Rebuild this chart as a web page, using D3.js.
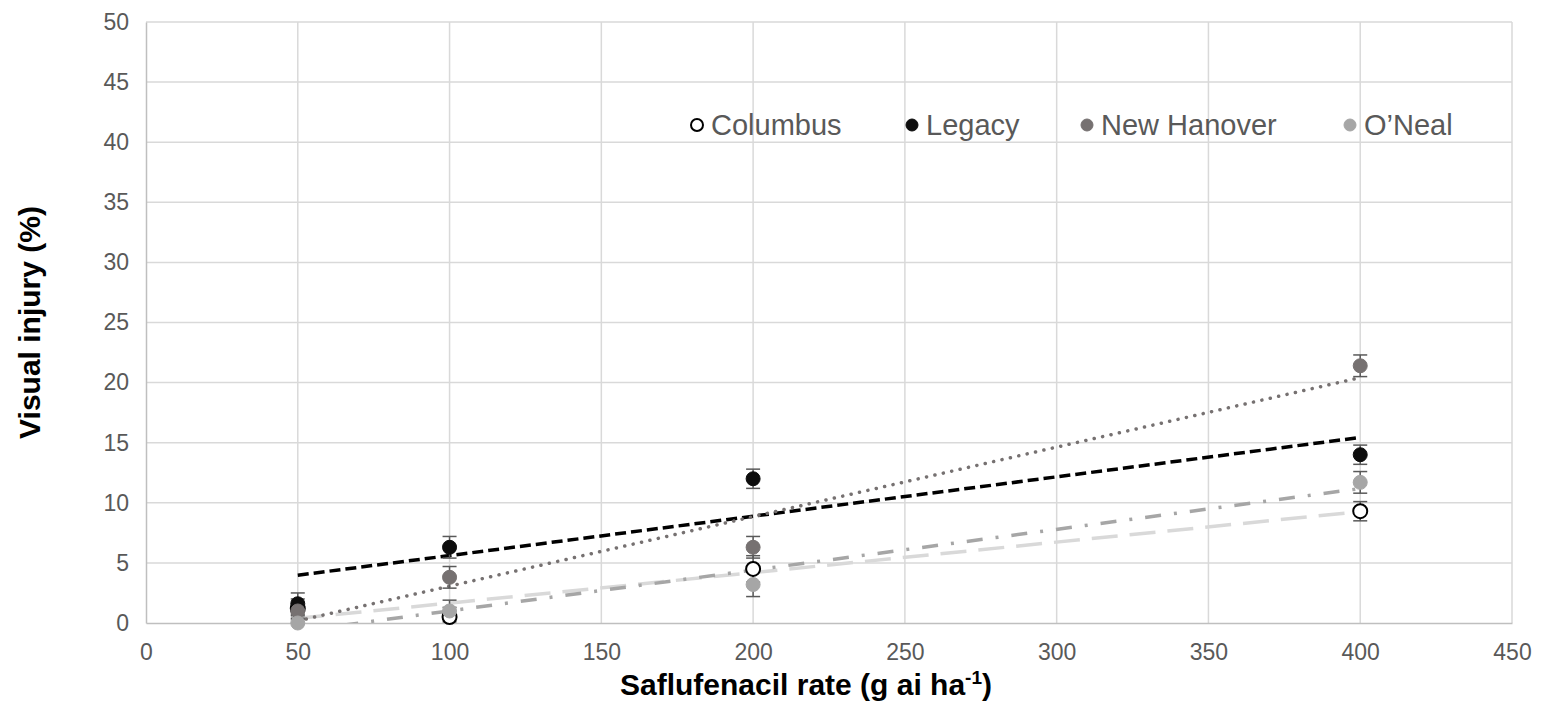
<!DOCTYPE html>
<html>
<head>
<meta charset="utf-8">
<script src="https://cdn.jsdelivr.net/npm/d3@7"></script>
<style>
  body { margin: 0; background: #fff; }
  svg { display: block; font-family: "Liberation Sans", Arial, sans-serif; }
</style>
</head>
<body>
<svg id="chart" width="1543" height="706"></svg>
<script>
// saflufenacil rates (g ai/ha)
const rates = [50, 100, 200, 400];

// visual injury (%) means and error (SE) per site
const columbus = [1.2, 0.5, 4.5, 9.3];
const columbusErr = [0.8, 0.8, 1.1, 0.8];
const legacy = [1.6, 6.3, 12.0, 14.0];
const legacyErr = [0.9, 0.9, 0.8, 0.8];
const newHanover = [1.0, 3.8, 6.3, 21.4];
const newHanoverErr = [0.4, 0.9, 0.9, 0.9];
const oneal = [0.0, 1.0, 3.2, 11.7];
const onealErr = [0.3, 0.9, 1.0, 0.9];

const siteNames = ['Columbus', 'Legacy', 'New Hanover', 'O\u2019Neal'];
const xTicks = [0, 50, 100, 150, 200, 250, 300, 350, 400, 450];
const yTicks = [0, 5, 10, 15, 20, 25, 30, 35, 40, 45, 50];

// styles for each site, same order as siteNames
const series = [
    { name: siteNames[0], values: columbus, err: columbusErr, fill: '#ffffff', stroke: '#000000', line: '#d9d9d9', dash: '26,12', cap: 'butt' },
    { name: siteNames[1], values: legacy, err: legacyErr, fill: '#0d0d0d', stroke: '#0d0d0d', line: '#000000', dash: '11,5', cap: 'butt' },
    { name: siteNames[2], values: newHanover, err: newHanoverErr, fill: '#767171', stroke: '#767171', line: '#767171', dash: '0.1,8.5', cap: 'round' },
    { name: siteNames[3], values: oneal, err: onealErr, fill: '#a6a6a6', stroke: '#a6a6a6', line: '#a6a6a6', dash: '16,13,3,13', cap: 'butt' }
];

const margin = { top: 22, right: 31, bottom: 83, left: 146 };
const svg = d3.select('#chart');
const width = 1543 - margin.left - margin.right;
const height = 706 - margin.top - margin.bottom;

const g = svg.append('g')
    .attr('transform', `translate(${margin.left}, ${margin.top})`);

const x = d3.scaleLinear().domain([0, 450]).range([0, width]);
const y = d3.scaleLinear().domain([0, 50]).range([height, 0]);

// 網格線
g.append('g')
    .selectAll('line.hgrid')
    .data(yTicks.slice(1))
    .enter().append('line')
    .attr('x1', 0).attr('x2', width)
    .attr('y1', d => y(d)).attr('y2', d => y(d))
    .attr('stroke', '#d9d9d9').attr('stroke-width', 1.5);

g.append('g')
    .selectAll('line.vgrid')
    .data(xTicks.slice(1))
    .enter().append('line')
    .attr('x1', d => x(d)).attr('x2', d => x(d))
    .attr('y1', 0).attr('y2', height)
    .attr('stroke', '#d9d9d9').attr('stroke-width', 1.5);

// 座標軸
const xAxis = g.append('g')
    .attr('transform', `translate(0, ${height})`)
    .call(d3.axisBottom(x).tickValues(xTicks).tickSize(0).tickPadding(21));
const yAxis = g.append('g')
    .call(d3.axisLeft(y).tickValues(yTicks).tickSize(0).tickPadding(17));

[xAxis, yAxis].forEach(a => {
    a.select('.domain').attr('stroke', '#bfbfbf').attr('stroke-width', 1.5);
    a.selectAll('text')
        .attr('fill', '#595959')
        .style('font-size', '23px')
        .style('font-family', '"Liberation Sans", Arial, sans-serif');
});

// axis titles
svg.append('text')
    .attr('x', 806)
    .attr('y', 695)
    .attr('text-anchor', 'middle')
    .style('font-size', '30px')
    .style('font-weight', 'bold')
    .attr('fill', '#000')
    .text('Saflufenacil rate (g ai ha')
    .call(t => {
        t.append('tspan').attr('dy', -11).style('font-size', '19px').text('-1');
        t.append('tspan').attr('dy', 11).text(')');
    });

svg.append('text')
    .attr('transform', `translate(40, ${margin.top + height / 2}) rotate(-90)`)
    .attr('text-anchor', 'middle')
    .style('font-size', '30px')
    .style('font-weight', 'bold')
    .attr('fill', '#000')
    .text('Visual injury (%)');

// clip for trend lines
svg.append('defs').append('clipPath').attr('id', 'plot-clip')
    .append('rect').attr('width', width).attr('height', height);

// linear trend (least squares) from each site's points
function linearFit(xs, ys) {
    const mx = d3.mean(xs);
    const my = d3.mean(ys);
    let sxy = 0, sxx = 0;
    xs.forEach((v, i) => {
        sxy += (v - mx) * (ys[i] - my);
        sxx += (v - mx) * (v - mx);
    });
    const slope = sxy / sxx;
    return { slope: slope, intercept: my - slope * mx };
}

const trendLayer = g.append('g').attr('clip-path', 'url(#plot-clip)');
series.forEach(s => {
    const fit = linearFit(rates, s.values);
    const ends = [d3.min(rates), d3.max(rates)].map(r => ({ r: r, v: fit.intercept + fit.slope * r }));
    trendLayer.append('path')
        .datum(ends)
        .attr('fill', 'none')
        .attr('stroke', s.line)
        .attr('stroke-width', 3.5)
        .attr('stroke-dasharray', s.dash)
        .attr('stroke-linecap', s.cap)
        .attr('d', d3.line().x(d => x(d.r)).y(d => y(d.v)));
});

// error bars
const errLayer = g.append('g');
series.forEach(s => {
    rates.forEach((r, i) => {
        const cx = x(r);
        const lo = y(Math.max(0, s.values[i] - s.err[i]));
        const hi = y(s.values[i] + s.err[i]);
        errLayer.append('line')
            .attr('x1', cx).attr('x2', cx).attr('y1', lo).attr('y2', hi)
            .attr('stroke', '#595959').attr('stroke-width', 1.5);
        [lo, hi].forEach(yy => {
            if (yy >= height) return;
            errLayer.append('line')
                .attr('x1', cx - 7).attr('x2', cx + 7).attr('y1', yy).attr('y2', yy)
                .attr('stroke', '#595959').attr('stroke-width', 1.5);
        });
    });
});

// markers
series.forEach(s => {
    g.append('g')
        .selectAll('circle')
        .data(rates.map((r, i) => ({ r: r, v: s.values[i] })))
        .enter().append('circle')
        .attr('cx', d => x(d.r))
        .attr('cy', d => y(d.v))
        .attr('r', 7)
        .attr('fill', s.fill)
        .attr('stroke', s.stroke)
        .attr('stroke-width', s.name === 'Columbus' ? 2 : 1);
});

// 圖例
const legendX = [697, 912, 1087, 1350];
const legend = svg.append('g');
series.forEach((s, i) => {
    legend.append('circle')
        .attr('cx', legendX[i]).attr('cy', 125)
        .attr('r', 6)
        .attr('fill', s.fill)
        .attr('stroke', s.stroke)
        .attr('stroke-width', s.name === 'Columbus' ? 2 : 1);
    legend.append('text')
        .attr('x', legendX[i] + 14)
        .attr('y', 135)
        .attr('fill', '#595959')
        .style('font-size', '29px')
        .text(s.name);
});
</script>
</body>
</html>
